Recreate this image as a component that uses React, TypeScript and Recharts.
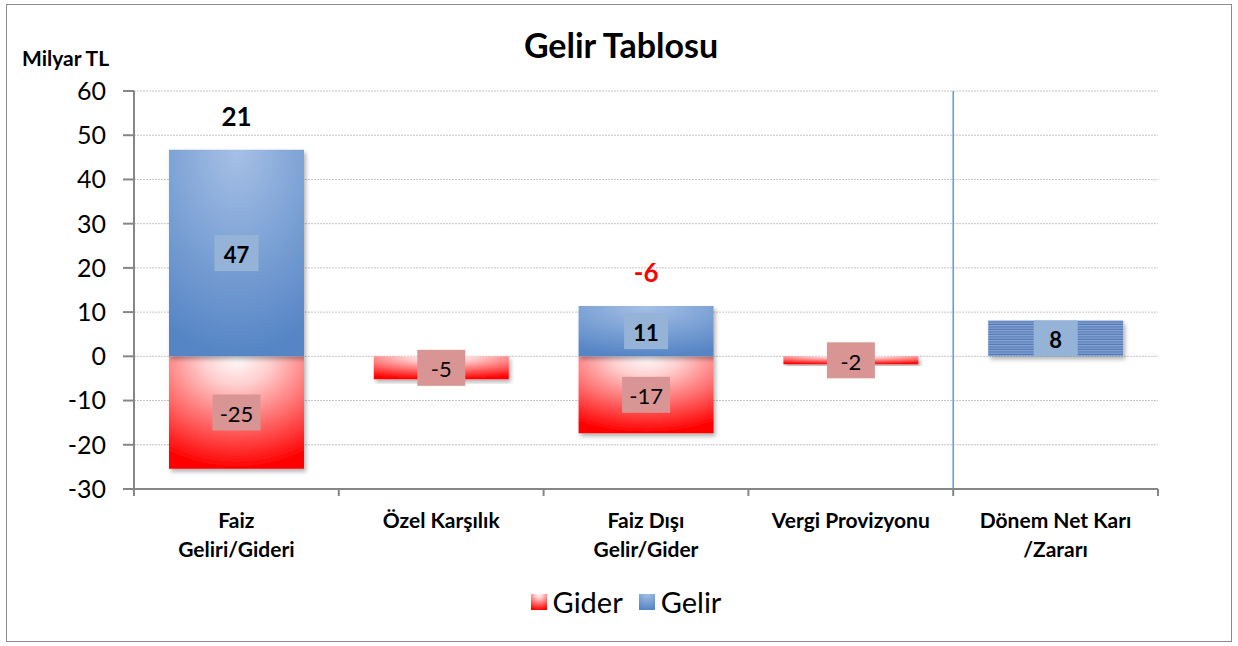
import React from "react";
import {
  BarChart,
  Bar,
  XAxis,
  YAxis,
  CartesianGrid,
  Legend,
  LabelList,
  ReferenceLine,
} from "recharts";

/* ── Data ────────────────────────────────────────────────────── */

const categories = [
  "Faiz\nGeliri/Gideri",
  "Özel Karşılık",
  "Faiz Dışı\nGelir/Gider",
  "Vergi Provizyonu",
  "Dönem Net Karı\n/Zararı",
];
const giderValues = [-25.4, -5.2, -17.4, -1.8, 0];
const gelirValues = [46.7, 0, 11.4, 0, 0];
const netKarValues = [0, 0, 0, 0, 8.1];
const netLabels = ["21", "", "-6", "", ""];
const yTicks = [-30, -20, -10, 0, 10, 20, 30, 40, 50, 60];
const boundaryTicks = [0, 1, 2, 3, 4, 5];

const data = categories.map((name, i) => ({
  name,
  idx: i,
  gider: giderValues[i] || null,
  gelir: gelirValues[i] || null,
  net: netKarValues[i] || null,
  netLabel: netLabels[i],
}));

const FONT = "Lato, 'Open Sans', sans-serif";
const AXIS_GRAY = "#868686";

/* ── Custom pieces ───────────────────────────────────────────── */

function CategoryTick({ x, y, payload }: any) {
  const lines = String(payload.value).split("\n");
  return (
    <text
      x={x}
      y={y}
      textAnchor="middle"
      fontFamily={FONT}
      fontWeight={700}
      fontSize={21}
      fill="#000"
    >
      {lines.map((l, i) => (
        <tspan key={i} x={x} dy={i === 0 ? 23 : 29}>
          {l}
        </tspan>
      ))}
    </text>
  );
}

function boxLabel(bg: string, bold: boolean, w: number) {
  return (props: any) => {
    const { x, y, width, height, value } = props;
    if (value == null || value === 0) return null;
    const cx = x + width / 2;
    const cy = y + height / 2;
    return (
      <g>
        <rect x={cx - w / 2} y={cy - 18} width={w} height={36} fill={bg} />
        <text
          x={cx}
          y={cy + 1}
          textAnchor="middle"
          dominantBaseline="central"
          fontFamily={FONT}
          fontWeight={bold ? 700 : 400}
          fontSize={22}
          fill="#000"
        >
          {Math.round(value)}
        </text>
      </g>
    );
  };
}

function NetLabel(props: any) {
  const { x, y, width, value } = props;
  if (!value) return null;
  return (
    <text
      x={x + width / 2}
      y={y - 34}
      textAnchor="middle"
      dominantBaseline="central"
      fontFamily={FONT}
      fontWeight={700}
      fontSize={26}
      fill={String(value).startsWith("-") ? "#ff0000" : "#000"}
    >
      {value}
    </text>
  );
}

function LegendContent() {
  const item = (fill: string, label: string) => (
    <span style={{ display: "inline-flex", alignItems: "center", margin: "0 8px" }}>
      <svg width={16} height={16} style={{ marginRight: 6 }}>
        <rect width={16} height={16} fill={fill} />
      </svg>
      <span style={{ fontSize: 29, fontFamily: FONT, color: "#000" }}>{label}</span>
    </span>
  );
  return (
    <div
      style={{
        textAlign: "center",
        height: 30,
        lineHeight: "30px",
        whiteSpace: "nowrap",
        paddingLeft: 14,
      }}
    >
      {item("url(#giderGrad)", "Gider")}
      {item("url(#gelirGrad)", "Gelir")}
    </div>
  );
}

/* ── Chart ───────────────────────────────────────────────────── */

export default function App() {
  return (
    <div style={{ position: "relative", width: 1238, height: 646, background: "#fff" }}>
      <style>{"body{margin:0}"}</style>
      <svg width={0} height={0} style={{ position: "absolute" }}>
        <defs>
          <radialGradient id="giderGrad" cx="0.5" cy="0" r="1">
            <stop offset="0" stopColor="#ffffff" />
            <stop offset="0.25" stopColor="#ffd0d0" />
            <stop offset="1" stopColor="#ff0000" />
          </radialGradient>
          <radialGradient id="gelirGrad" cx="0.5" cy="0" r="1">
            <stop offset="0" stopColor="#a6c0e6" />
            <stop offset="1" stopColor="#5585c5" />
          </radialGradient>
          <pattern id="netPattern" width={6} height={2.5} patternUnits="userSpaceOnUse">
            <rect width={6} height={2.5} fill="#86a5d6" />
            <rect y={1.3} width={6} height={1.2} fill="#5479b3" />
          </pattern>
          <filter id="barShadow" x="-10%" y="-10%" width="120%" height="130%">
            <feDropShadow dx={2} dy={3} stdDeviation={2} floodColor="#000" floodOpacity={0.3} />
          </filter>
        </defs>
      </svg>
      <div
        style={{
          position: "absolute",
          left: 6,
          top: 4,
          width: 1224,
          height: 636,
          border: "1px solid #8c8c8c",
        }}
      />
      <div
        style={{
          position: "absolute",
          top: 24,
          width: 1238,
          textAlign: "center",
          fontFamily: FONT,
          fontWeight: 700,
          fontSize: 34,
          paddingLeft: 4,
          boxSizing: "border-box",
        }}
      >
        Gelir Tablosu
      </div>
      <div
        style={{
          position: "absolute",
          left: 22,
          top: 45,
          fontFamily: FONT,
          fontWeight: 700,
          fontSize: 21,
        }}
      >
        Milyar TL
      </div>
      <div style={{ position: "absolute", left: 0, top: 0 }}>
        <BarChart
          width={1238}
          height={646}
          data={data}
          stackOffset="sign"
          barCategoryGap={35}
          margin={{ top: 91, right: 80, bottom: 29, left: 0 }}
        >
          <CartesianGrid
            vertical={false}
            stroke="#c4c4c4"
            strokeDasharray="2 1"
            yAxisId="y"
            xAxisId="cat"
          />
          <XAxis
            xAxisId="cat"
            dataKey="name"
            axisLine={false}
            tickLine={false}
            interval={0}
            height={90}
            tick={<CategoryTick />}
          />
          <XAxis
            xAxisId="axis"
            type="number"
            dataKey="idx"
            domain={[0, 5]}
            ticks={boundaryTicks}
            tickFormatter={() => ""}
            tickSize={7}
            height={8}
            axisLine={{ stroke: AXIS_GRAY, strokeWidth: 2 }}
            tickLine={{ stroke: AXIS_GRAY, strokeWidth: 2 }}
          />
          <YAxis
            yAxisId="y"
            width={134}
            domain={[-30, 60]}
            ticks={yTicks}
            interval={0}
            tickSize={11}
            tickMargin={17}
            axisLine={{ stroke: AXIS_GRAY, strokeWidth: 2 }}
            tickLine={{ stroke: AXIS_GRAY, strokeWidth: 2 }}
            tick={{ fontFamily: FONT, fontSize: 25, fill: "#000" }}
          />
          <ReferenceLine
            xAxisId="axis"
            yAxisId="y"
            x={4}
            stroke="#5b9bd5"
            strokeWidth={1.5}
          />
          <Legend
            verticalAlign="bottom"
            wrapperStyle={{ left: 0, width: 1238 }}
            content={<LegendContent />}
          />
          <Bar
            dataKey="gider"
            name="Gider"
            stackId="a"
            xAxisId="cat"
            yAxisId="y"
            fill="url(#giderGrad)"
            filter="url(#barShadow)"
            isAnimationActive={false}
          >
            <LabelList dataKey="gider" content={boxLabel("#d99594", false, 48)} />
          </Bar>
          <Bar
            dataKey="gelir"
            name="Gelir"
            stackId="a"
            xAxisId="cat"
            yAxisId="y"
            fill="url(#gelirGrad)"
            filter="url(#barShadow)"
            isAnimationActive={false}
          >
            <LabelList dataKey="gelir" content={boxLabel("#95b3d7", true, 44)} />
            <LabelList dataKey="netLabel" content={<NetLabel />} />
          </Bar>
          <Bar
            dataKey="net"
            name="Net"
            stackId="a"
            xAxisId="cat"
            yAxisId="y"
            legendType="none"
            fill="url(#netPattern)"
            filter="url(#barShadow)"
            isAnimationActive={false}
          >
            <LabelList dataKey="net" content={boxLabel("#95b3d7", true, 44)} />
          </Bar>
        </BarChart>
      </div>
    </div>
  );
}
